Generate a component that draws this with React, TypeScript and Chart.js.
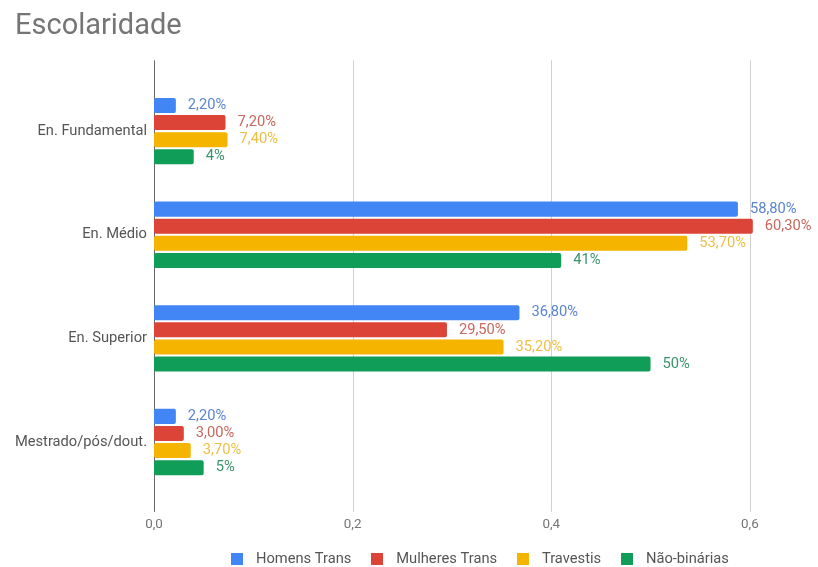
import React, { useEffect, useRef } from "react";
import { Chart, registerables } from "chart.js";

Chart.register(...registerables);

const TITLE = "Escolaridade";
const categories = ["En. Fundamental", "En. Médio", "En. Superior", "Mestrado/pós/dout."];
const seriesNames = ["Homens Trans", "Mulheres Trans", "Travestis", "Não-binárias"];

const homensTrans = [0.022, 0.588, 0.368, 0.022];
const mulheresTrans = [0.072, 0.603, 0.295, 0.03];
const travestis = [0.074, 0.537, 0.352, 0.037];
const naoBinarias = [0.04, 0.41, 0.5, 0.05];

const homensTransLabels = ["2,20%", "58,80%", "36,80%", "2,20%"];
const mulheresTransLabels = ["7,20%", "60,30%", "29,50%", "3,00%"];
const travestisLabels = ["7,40%", "53,70%", "35,20%", "3,70%"];
const naoBinariasLabels = ["4%", "41%", "50%", "5%"];

const xTicks = [0, 0.2, 0.4, 0.6];

const barColors = ["#4285F4", "#DB4437", "#F4B400", "#0F9D58"];
const labelColors = ["#5b84d2", "#c8675d", "#ecbf45", "#3a9468"];

const FONT = "Roboto";

function squareSwatch(color: string) {
  const c = document.createElement("canvas");
  c.width = 12;
  c.height = 12;
  const g = c.getContext("2d") as CanvasRenderingContext2D;
  g.fillStyle = color;
  g.fillRect(0, 0, 12, 12);
  return c;
}

export default function App() {
  const ref = useRef<HTMLCanvasElement>(null);

  useEffect(() => {
    document.body.style.margin = "0";
    const values = [homensTrans, mulheresTrans, travestis, naoBinarias];
    const labels = [homensTransLabels, mulheresTransLabels, travestisLabels, naoBinariasLabels];
    const swatches = barColors.map(squareSwatch);

    const gridPlugin = {
      id: "extGrid",
      beforeDatasetsDraw(chart: any) {
        const { ctx, chartArea } = chart;
        const xs = chart.scales.x;
        ctx.save();
        ctx.lineWidth = 1;
        xs.ticks.forEach((t: any) => {
          const px = Math.round(xs.getPixelForValue(t.value)) + 0.5;
          ctx.strokeStyle = t.value === 0 ? "#666666" : "#d0d0d0";
          ctx.beginPath();
          ctx.moveTo(px, chartArea.top - 19);
          ctx.lineTo(px, chartArea.bottom + 18);
          ctx.stroke();
        });
        ctx.restore();
      },
    };

    const labelPlugin = {
      id: "barLabels",
      afterDatasetsDraw(chart: any) {
        const { ctx } = chart;
        ctx.save();
        ctx.font = `14.7px ${FONT}`;
        ctx.textAlign = "left";
        ctx.textBaseline = "middle";
        chart.data.datasets.forEach((ds: any, di: number) => {
          const meta = chart.getDatasetMeta(di);
          ctx.fillStyle = labelColors[di];
          meta.data.forEach((el: any, i: number) => {
            ctx.fillText(labels[di][i], el.x + 12, el.y);
          });
        });
        ctx.restore();
      },
    };

    const chart = new Chart(ref.current as HTMLCanvasElement, {
      type: "bar",
      data: {
        labels: categories,
        datasets: seriesNames.map((name, i) => ({
          label: name,
          data: values[i],
          backgroundColor: barColors[i],
          borderRadius: 2,
          borderSkipped: false,
          categoryPercentage: 0.66,
          barPercentage: 0.88,
        })),
      },
      options: {
        indexAxis: "y",
        responsive: false,
        animation: false,
        layout: { padding: { left: 15, right: 18.5, top: 0, bottom: -9.35 } },
        scales: {
          x: {
            min: 0,
            max: 0.65,
            grid: { display: false, drawTicks: false },
            border: { display: false },
            afterBuildTicks: (axis: any) => {
              axis.ticks = xTicks.map((v) => ({ value: v }));
            },
            afterFit: (axis: any) => {
              axis.height = 44.3;
            },
            ticks: {
              padding: 23,
              color: "#757575",
              font: { family: FONT, size: 13.4 },
              callback: (v: any) => Number(v).toFixed(1).replace(".", ","),
            },
          },
          y: {
            grid: { display: false, drawTicks: false },
            border: { display: false },
            afterFit: (axis: any) => {
              axis.width = 139;
            },
            ticks: {
              padding: 7,
              color: "#555555",
              font: { family: FONT, size: 14.7 },
            },
          },
        },
        plugins: {
          title: {
            display: true,
            text: TITLE,
            align: "start",
            color: "#757575",
            font: { family: FONT, size: 29, weight: "normal" },
            padding: { top: 9, bottom: 35.5 },
          },
          legend: {
            position: "bottom",
            fullSize: false,
            labels: {
              usePointStyle: true,
              pointStyleWidth: 24,
              boxHeight: 12,
              padding: 13.5,
              color: "#555555",
              font: { family: FONT, size: 14.7 },
              generateLabels: (chart: any) => {
                const items = Chart.defaults.plugins.legend.labels.generateLabels(chart);
                return items.map((it: any, i: number) => ({ ...it, pointStyle: swatches[i] }));
              },
            },
          },
          tooltip: { enabled: false },
        },
      },
      plugins: [gridPlugin, labelPlugin],
    } as any);

    return () => chart.destroy();
  }, []);

  return (
    <div style={{ width: 818, height: 567, overflow: "hidden" }}>
      <canvas ref={ref} width={818} height={567} style={{ display: "block" }} />
    </div>
  );
}
